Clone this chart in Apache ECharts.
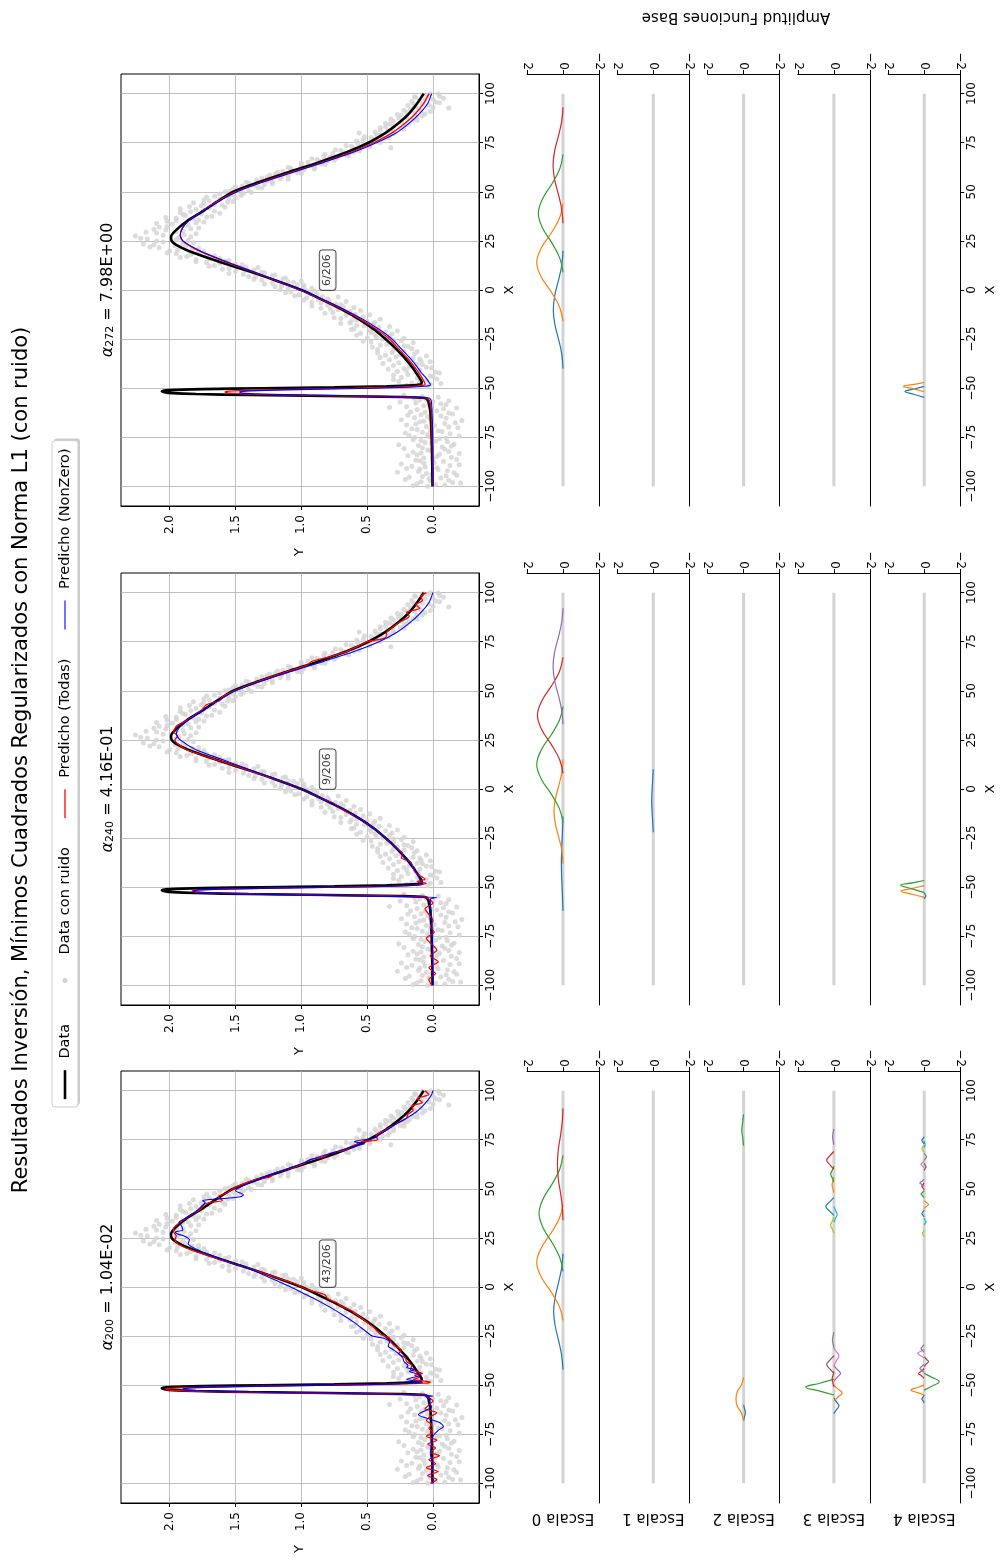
<!DOCTYPE html>
<html>
<head>
<meta charset="utf-8">
<script src="https://cdn.jsdelivr.net/npm/echarts@6/dist/echarts.min.js"></script>
<style>
  html, body { margin: 0; padding: 0; background: #ffffff; }
  #chart { width: 1004px; height: 1560px; }
</style>
</head>
<body>
<div id="chart"></div>
<script>
// ---------------------------------------------------------------------------
// Tick values
// ---------------------------------------------------------------------------
const xTicks = [-100, -75, -50, -25, 0, 25, 50, 75, 100];
const yTicks = [0, 0.5, 1, 1.5, 2];
const ampTicks = [-2, 0, 2];

// ---------------------------------------------------------------------------
// Panel labels
// ---------------------------------------------------------------------------
const alphaIndex = ['200', '240', '272'];
const alphaValue = ['1.04E-02', '4.16E-01', '7.98E+00'];
const nonZeroCount = ['43/206', '9/206', '6/206'];
const scaleNames = ['Escala 0', 'Escala 1', 'Escala 2', 'Escala 3', 'Escala 4'];
const legendNames = ['Data', 'Data con ruido', 'Predicho (Todas)', 'Predicho (NonZero)'];

// ---------------------------------------------------------------------------
// Data: pairs are [X, Y]
// ---------------------------------------------------------------------------
const dataCurve = [
  [-100, 0.003], [-90, 0.005], [-80, 0.008], [-70, 0.013], [-62, 0.02], [-58, 0.03], [-56, 0.04],
  [-55, 0.06], [-54.5, 0.25], [-54, 0.8], [-53.5, 1.4], [-53, 1.8], [-52.5, 1.98], [-52, 2.04],
  [-51.5, 2.06], [-51, 2.0], [-50.5, 1.75], [-50, 1.3], [-49.5, 0.75], [-49, 0.35], [-48.5, 0.15],
  [-48, 0.09], [-47, 0.085], [-45, 0.1], [-42, 0.13], [-40, 0.15], [-35, 0.21], [-30, 0.28],
  [-25, 0.36], [-20, 0.45], [-15, 0.56], [-10, 0.69], [-5, 0.84], [0, 1.0], [5, 1.2], [10, 1.42],
  [15, 1.65], [20, 1.86], [23, 1.95], [25, 1.985], [27, 1.99], [30, 1.96], [35, 1.87], [40, 1.75],
  [45, 1.64], [50, 1.52], [55, 1.32], [60, 1.1], [65, 0.87], [70, 0.66], [75, 0.49], [80, 0.36],
  [85, 0.26], [90, 0.18], [95, 0.12], [100, 0.07]
];

const noisyData = [
  [-100, 0.04], [-99.3, -0.09], [-98.7, 0.12], [-98, -0.15], [-97.2, 0.02], [-96.5, 0.21], [-95.8, -0.06],
  [-95, 0.08], [-94.3, -0.18], [-93.5, 0.05], [-92.8, 0.27], [-92, -0.11], [-91.2, 0.1], [-90.5, -0.03],
  [-89.7, 0.16], [-89, -0.2], [-88.2, 0.07], [-87.4, -0.08], [-86.7, 0.13], [-86, 0.0], [-85.2, -0.14],
  [-84.4, 0.19], [-83.7, -0.05], [-83, 0.09], [-82.2, -0.12], [-81.5, 0.04], [-80.7, 0.22], [-80, -0.07],
  [-79.2, 0.11], [-78.5, -0.16], [-77.7, 0.06], [-77, -0.02], [-76.2, 0.15], [-75.5, -0.1], [-74.7, 0.03],
  [-74, 0.18], [-73.2, -0.13], [-72.5, 0.08], [-71.7, -0.04], [-71, 0.12], [-70.2, -0.19], [-69.5, 0.05],
  [-68.7, 0.2], [-68, -0.09], [-67.2, 0.1], [-66.5, -0.22], [-65.7, 0.02], [-65, 0.14], [-64.2, -0.06],
  [-63.5, 0.09], [-62.7, -0.12], [-62, 0.17], [-61.2, 0.01], [-60.5, -0.08], [-59.8, 0.33], [-59, 0.07],
  [-58.3, -0.1], [-57.5, 0.13], [-56.8, 0.0], [-56, 0.1], [-55.2, 0.14], [-54.6, -0.04],
  [-48.5, 0.2], [-48, 0.02], [-47.3, 0.16], [-46.6, 0.26], [-46, 0.05], [-45.3, -0.03],
  [-44.5, 0.24], [-43.8, 0.02], [-43, 0.19], [-42.3, -0.05], [-41.5, 0.27], [-40.8, 0.1], [-40, 0.22],
  [-39.3, 0.05], [-38.5, 0.3], [-37.8, 0.12], [-37, 0.26], [-36.3, 0.09], [-35.5, 0.33], [-34.8, 0.15],
  [-34, 0.28], [-33.2, 0.36], [-32.5, 0.14], [-31.8, 0.31], [-31, 0.22], [-30.3, 0.42], [-29.5, 0.27],
  [-28.8, 0.19], [-28, 0.4], [-27.3, 0.3], [-26.5, 0.47], [-25.8, 0.24], [-25, 0.38], [-24.3, 0.5],
  [-23.5, 0.33], [-22.8, 0.44], [-22, 0.55], [-21.3, 0.36], [-20.5, 0.48], [-19.8, 0.6], [-19, 0.41],
  [-18.3, 0.52], [-17.5, 0.45], [-16.8, 0.63], [-16, 0.5], [-15.3, 0.58], [-14.5, 0.7], [-13.8, 0.53],
  [-13, 0.66], [-12.3, 0.59], [-11.5, 0.76], [-10.8, 0.63], [-10, 0.72], [-9.3, 0.85], [-8.5, 0.68],
  [-7.8, 0.8], [-7, 0.74], [-6.3, 0.92], [-5.5, 0.79], [-4.8, 0.87], [-4, 0.96], [-3.3, 0.84],
  [-2.5, 1.02], [-1.8, 0.93], [-1, 1.08], [-0.3, 0.96],
  [0.5, 1.1], [1.2, 0.98], [2, 1.15], [2.7, 1.03], [3.5, 1.22], [4.2, 1.1], [5, 1.3], [5.7, 1.14],
  [6.5, 1.35], [7.2, 1.22], [8, 1.44], [8.7, 1.28], [9.5, 1.5], [10.2, 1.36], [11, 1.55], [11.7, 1.42],
  [12.5, 1.66], [13.2, 1.5], [14, 1.72], [14.7, 1.58], [15.5, 1.8], [16.2, 1.62], [17, 1.87], [17.7, 1.72],
  [18.5, 1.95], [19.2, 1.78], [20, 2.0], [20.7, 1.83], [21.5, 2.08], [22.2, 1.88], [23, 2.12], [23.7, 1.9],
  [24.5, 2.05], [25.2, 1.86], [26, 2.17], [26.7, 1.93], [27.5, 2.26], [28.2, 1.89], [29, 2.1], [29.7, 1.95],
  [30.5, 2.03], [31.2, 1.84], [32, 2.08], [32.7, 1.9], [33.5, 1.98], [34.2, 1.8], [35, 2.02], [35.7, 1.78],
  [36.5, 1.95], [37.2, 1.72], [38, 1.88], [38.7, 1.76], [39.5, 1.92], [40.2, 1.66], [41, 1.8], [41.7, 1.7],
  [42.5, 1.85], [43.2, 1.6], [44, 1.74], [44.7, 1.56], [45.5, 1.7], [46.2, 1.62], [47, 1.5], [47.7, 1.66],
  [48.5, 1.52], [49.2, 1.44], [50, 1.58], [50.7, 1.4], [51.5, 1.52], [52.2, 1.33], [53, 1.45], [53.7, 1.28],
  [54.5, 1.4], [55.2, 1.22], [56, 1.34], [56.7, 1.16], [57.5, 1.26], [58.2, 1.1], [59, 1.2], [59.7, 1.03],
  [60.5, 1.14], [61.2, 0.98], [62, 1.08], [62.7, 0.9], [63.5, 1.0], [64.2, 0.85], [65, 0.95], [65.7, 0.8],
  [66.5, 0.88], [67.2, 0.73], [68, 0.83], [68.7, 0.66], [69.5, 0.76], [70.2, 0.6], [71, 0.7], [71.7, 0.56],
  [72.5, 0.32], [73.2, 0.62], [74, 0.48], [74.7, 0.57], [75.5, 0.42], [76.2, 0.53], [77, 0.38], [77.7, 0.47],
  [78.5, 0.33], [79.2, 0.43], [80, 0.56], [80.8, 0.3], [81.5, 0.4], [82.2, 0.25], [83, 0.36], [83.7, 0.22],
  [84.5, 0.33], [85.2, 0.18], [86, 0.3], [86.7, 0.15], [87.5, 0.26], [88.2, 0.12], [89, 0.24], [89.7, 0.06],
  [90.5, 0.2], [91.2, 0.09], [92, 0.17], [92.7, -0.12], [93.5, 0.14], [94.2, 0.03], [95, 0.15], [95.7, -0.02],
  [96.5, 0.1], [97.2, 0.0], [98, 0.13], [98.7, -0.05], [99.4, 0.08], [100, 0.02],
  // second pass of samples
  [-99.6, 0.15], [-99, -0.02], [-98.3, -0.21], [-97.6, 0.09], [-96.9, -0.12], [-96.1, 0.03], [-95.4, 0.18],
  [-94.6, -0.1], [-93.9, 0.01], [-93.1, -0.16], [-92.4, 0.11], [-91.6, -0.04], [-90.9, 0.2], [-90.1, 0.06],
  [-89.4, -0.13], [-88.6, 0.24], [-87.8, -0.01], [-87, 0.1], [-86.3, -0.18], [-85.6, 0.07], [-84.8, -0.03],
  [-84, 0.12], [-83.3, -0.2], [-82.6, 0.15], [-81.8, 0.02], [-81.1, -0.09], [-80.3, 0.08], [-79.6, -0.14],
  [-78.8, 0.26], [-78.1, 0.01], [-77.3, -0.11], [-76.6, 0.09], [-75.8, -0.05], [-75.1, 0.14], [-74.3, -0.2],
  [-73.6, 0.04], [-72.8, 0.21], [-72.1, -0.07], [-71.3, 0.02], [-70.6, 0.16], [-69.8, -0.12], [-69.1, -0.01],
  [-68.3, 0.13], [-67.6, -0.17], [-66.8, 0.07], [-66.1, 0.24], [-65.3, -0.1], [-64.6, 0.04], [-63.8, 0.19],
  [-63.1, -0.15], [-62.3, 0.06], [-61.6, -0.03], [-60.8, 0.12], [-60.1, -0.18], [-59.4, 0.2], [-58.6, 0.03],
  [-57.9, -0.06], [-57.1, 0.25], [-56.4, -0.12], [-55.6, 0.05],
  [-54.2, 0.08], [-53.6, 0.22], [-49.2, 0.04], [-47.6, -0.06], [-46.9, 0.1], [-45.6, 0.3], [-45, 0.12],
  [-44.1, 0.0], [-43.4, 0.3], [-42.7, 0.11], [-41.9, -0.02], [-41.1, 0.2], [-40.4, 0.34], [-39.6, 0.01],
  [-38.9, 0.18], [-38.1, 0.08], [-37.4, 0.38], [-36.6, 0.02], [-35.9, 0.2], [-35.1, 0.1], [-34.4, 0.4],
  [-33.6, 0.05], [-32.9, 0.25], [-32.1, 0.42], [-31.4, 0.12], [-30.6, 0.3], [-29.9, 0.16], [-29.1, 0.46],
  [-28.4, 0.22], [-27.6, 0.35], [-26.9, 0.15], [-26.1, 0.53], [-25.4, 0.3], [-24.6, 0.22], [-23.9, 0.43],
  [-23.1, 0.58], [-22.4, 0.31], [-21.6, 0.47], [-20.9, 0.27], [-20.1, 0.62], [-19.4, 0.46], [-18.6, 0.33],
  [-17.9, 0.58], [-17.1, 0.7], [-16.4, 0.44], [-15.6, 0.62], [-14.9, 0.4], [-14.1, 0.75], [-13.4, 0.6],
  [-12.6, 0.48], [-11.9, 0.82], [-11.1, 0.66], [-10.4, 0.55], [-9.6, 0.78], [-8.9, 0.6], [-8.1, 0.92],
  [-7.4, 0.7], [-6.6, 0.85], [-5.9, 0.66], [-5.1, 0.98], [-4.4, 0.8], [-3.6, 0.72], [-2.9, 1.05],
  [-2.1, 0.88], [-1.4, 1.12], [-0.6, 0.9],
  [0.2, 1.16], [0.9, 0.92], [1.6, 1.2], [2.4, 0.98], [3.1, 1.28], [3.9, 1.06], [4.6, 1.0], [5.4, 1.36],
  [6.1, 1.12], [6.9, 1.4], [7.6, 1.2], [8.4, 1.55], [9.1, 1.3], [9.9, 1.42], [10.6, 1.6], [11.4, 1.33],
  [12.1, 1.7], [12.9, 1.45], [13.6, 1.62], [14.4, 1.8], [15.1, 1.55], [15.9, 1.7], [16.6, 1.92], [17.4, 1.66],
  [18.1, 1.84], [18.9, 2.02], [19.6, 1.74], [20.4, 1.94], [21.1, 1.78], [21.9, 2.15], [22.6, 1.96], [23.4, 2.2],
  [24.1, 1.82], [24.9, 2.1], [25.6, 1.95], [26.4, 2.22], [27.1, 1.84],
  [27.9, 2.05], [28.6, 1.8], [29.4, 2.18], [30.1, 1.9], [30.9, 2.12], [31.6, 1.78], [32.4, 2.02], [33.1, 1.86],
  [33.9, 2.1], [34.6, 1.74], [35.4, 1.95], [36.1, 1.82], [36.9, 2.03], [37.6, 1.68], [38.4, 1.9], [39.1, 1.62],
  [39.9, 1.84], [40.6, 1.74], [41.4, 1.92], [42.1, 1.58], [42.9, 1.76], [43.6, 1.66], [44.4, 1.82], [45.1, 1.52],
  [45.9, 1.74], [46.6, 1.55], [47.4, 1.72], [48.1, 1.46], [48.9, 1.62], [49.6, 1.38], [50.4, 1.55], [51.1, 1.46],
  [51.9, 1.3], [52.6, 1.5], [53.4, 1.36], [54.1, 1.22], [54.9, 1.42], [55.6, 1.26], [56.4, 1.1], [57.1, 1.3],
  [57.9, 1.15], [58.6, 1.24], [59.4, 1.0], [60.1, 1.18], [60.9, 1.02], [61.6, 0.9], [62.4, 1.1], [63.1, 0.92],
  [63.9, 0.82], [64.6, 1.0], [65.4, 0.86], [66.1, 0.75], [66.9, 0.92], [67.6, 0.78], [68.4, 0.64], [69.1, 0.82],
  [69.9, 0.68], [70.6, 0.56], [71.4, 0.74], [72.1, 0.6], [72.9, 0.48], [73.6, 0.66], [74.4, 0.52], [75.1, 0.4],
  [75.9, 0.58], [76.6, 0.44], [77.4, 0.34], [78.1, 0.52], [78.9, 0.4], [79.6, 0.3], [80.4, 0.44], [81.1, 0.34],
  [81.9, 0.22], [82.6, 0.4], [83.4, 0.3], [84.1, 0.2], [84.9, 0.36], [85.6, 0.24], [86.4, 0.12], [87.1, 0.32],
  [87.9, 0.2], [88.6, 0.08], [89.4, 0.27], [90.1, 0.14], [90.9, 0.02], [91.6, 0.22], [92.4, 0.11], [93.1, 0.0],
  [93.9, 0.19], [94.6, 0.08], [95.4, -0.05], [96.1, 0.16], [96.9, 0.06], [97.6, -0.08], [98.4, 0.14],
  [99.1, 0.04], [99.8, -0.04]
];

// Predicted curves, alpha_200
const predTodas200 = [
  [-100, 0.02], [-98, -0.03], [-96, 0.04], [-94, -0.04], [-92, 0.05], [-90, -0.02], [-88, 0.03], [-86, -0.05],
  [-84, 0.02], [-82, -0.02], [-80, 0.04], [-78, -0.03], [-76, 0.05], [-74, 0.0], [-72, 0.03], [-70, 0.01],
  [-68, 0.05], [-66, 0.02], [-64, -0.03], [-62, 0.06], [-60, 0.03], [-58, 0.0], [-56, 0.04], [-55, 0.06],
  [-54.5, 0.35], [-54, 0.9], [-53.5, 1.5], [-53, 1.85], [-52.5, 2.0], [-52, 2.03], [-51.5, 1.98], [-51, 1.75],
  [-50.5, 1.3], [-50, 0.75], [-49.5, 0.3], [-49, 0.06], [-48.5, 0.02], [-48, 0.05], [-47, 0.15], [-46, 0.1],
  [-45, 0.14], [-44, 0.08], [-43, 0.13], [-42, 0.17], [-40, 0.16], [-38, 0.2], [-36, 0.21], [-34, 0.26],
  [-32, 0.24], [-30, 0.29], [-28, 0.32], [-26, 0.33], [-24, 0.4], [-22, 0.43], [-20, 0.46], [-17, 0.52],
  [-15, 0.56], [-12, 0.62], [-10, 0.69], [-8, 0.73], [-6, 0.8], [-4, 0.82], [-2, 0.92], [0, 1.0], [2, 1.06],
  [5, 1.2], [10, 1.42], [15, 1.66], [18, 1.8], [20, 1.88], [22, 1.94], [24, 1.96], [26, 1.95], [28, 1.97],
  [30, 1.97], [32, 1.94], [34, 1.9], [37, 1.83], [40, 1.76], [42, 1.74], [43, 1.7], [44, 1.6], [46, 1.63],
  [48, 1.56], [50, 1.52], [53, 1.42], [55, 1.33], [56, 1.24], [58, 1.2], [60, 1.1], [63, 0.98], [65, 0.93],
  [66, 0.84], [68, 0.78], [70, 0.66], [73, 0.57], [74, 0.54], [75, 0.42], [77, 0.43], [80, 0.36], [83, 0.28],
  [86, 0.2], [88, 0.19], [90, 0.15], [92, 0.16], [94, 0.08], [96, 0.12], [98, 0.03], [100, 0.06]
];
const predNonZero200 = [
  [-100, 0.0], [-95, 0.01], [-90, 0.0], [-85, 0.02], [-80, 0.01], [-76, 0.0], [-73, -0.04], [-71, -0.08],
  [-69, -0.05], [-67, 0.04], [-65, 0.11], [-63, 0.06], [-61, 0.01], [-59, 0.03], [-57, 0.02], [-56, 0.05],
  [-55.5, 0.0], [-55, 0.1], [-54.5, 0.4], [-54, 0.9], [-53.5, 1.4], [-53, 1.72], [-52.5, 1.86], [-52, 1.9],
  [-51.5, 1.86], [-51, 1.66], [-50.5, 1.25], [-50, 0.75], [-49.5, 0.35], [-49, 0.14], [-48.5, 0.08],
  [-48, 0.12], [-47, 0.2], [-46, 0.15], [-45, 0.09], [-44, 0.13], [-43, 0.18], [-42, 0.14], [-41, 0.2],
  [-40, 0.19], [-38, 0.22], [-36, 0.23], [-34, 0.26], [-32, 0.3], [-30, 0.34], [-28, 0.33], [-26, 0.38],
  [-25, 0.46], [-22, 0.52], [-18, 0.6], [-14, 0.69], [-10, 0.79], [-6, 0.9], [-3, 0.99], [0, 1.08],
  [3, 1.18], [6, 1.28], [10, 1.42], [14, 1.6], [17, 1.72], [20, 1.82], [22, 1.86], [24, 1.85], [26, 1.89],
  [27, 1.94], [28, 1.96], [29, 1.9], [31, 1.91], [33, 1.93], [35, 1.88], [38, 1.81], [41, 1.76], [43, 1.73],
  [44, 1.75], [45, 1.6], [46, 1.46], [47, 1.44], [49, 1.5], [52, 1.43], [55, 1.32], [58, 1.2], [60, 1.11],
  [63, 0.99], [65, 0.92], [68, 0.78], [70, 0.68], [72, 0.58], [73, 0.52], [74, 0.6], [76, 0.44], [78, 0.4],
  [80, 0.35], [83, 0.28], [86, 0.2], [89, 0.13], [92, 0.08], [95, 0.04], [98, 0.01], [100, 0.0]
];

// Predicted curves, alpha_240
const predTodas240 = [
  [-100, 0.01], [-97, 0.03], [-94, -0.02], [-91, 0.03], [-88, -0.04], [-85, 0.02], [-82, -0.03], [-79, 0.01],
  [-76, 0.05], [-73, -0.01], [-70, 0.02], [-67, 0.0], [-64, 0.03], [-61, 0.06], [-58, 0.0], [-56, 0.03],
  [-55, 0.06], [-54.5, 0.3], [-54, 0.8], [-53.5, 1.3], [-53, 1.65], [-52.5, 1.8], [-52, 1.83], [-51.5, 1.8],
  [-51, 1.6], [-50.5, 1.2], [-50, 0.7], [-49.5, 0.3], [-49, 0.12], [-48, 0.05], [-47, 0.12], [-46, 0.06],
  [-44, 0.1], [-42, 0.14], [-40, 0.15], [-37, 0.17], [-35, 0.24], [-33, 0.23], [-30, 0.28], [-25, 0.36],
  [-20, 0.45], [-15, 0.56], [-10, 0.7], [-7, 0.76], [-5, 0.84], [0, 1.0], [5, 1.2], [10, 1.42], [15, 1.65],
  [20, 1.87], [23, 1.94], [25, 1.96], [27, 1.94], [29, 1.97], [32, 1.95], [35, 1.87], [40, 1.76], [43, 1.72],
  [45, 1.62], [47, 1.6], [50, 1.51], [55, 1.32], [60, 1.1], [63, 0.96], [65, 0.92], [67, 0.8], [70, 0.66],
  [73, 0.56], [75, 0.5], [77, 0.36], [80, 0.35], [85, 0.25], [88, 0.18], [90, 0.2], [92, 0.1], [94, 0.13],
  [96, 0.08], [98, 0.09], [100, 0.05]
];
const predNonZero240 = [
  [-100, 0.0], [-80, 0.005], [-65, 0.01], [-58, 0.02], [-56, 0.02], [-55.3, -0.03], [-54.8, 0.2], [-54.3, 0.7],
  [-53.8, 1.2], [-53.2, 1.6], [-52.5, 1.78], [-52, 1.82], [-51.5, 1.8], [-51, 1.6], [-50.5, 1.2], [-50, 0.7],
  [-49.5, 0.3], [-49, 0.12], [-48.5, 0.08], [-48, 0.08], [-46, 0.1], [-43, 0.12], [-40, 0.15], [-35, 0.21],
  [-30, 0.28], [-25, 0.36], [-20, 0.45], [-15, 0.56], [-10, 0.69], [-5, 0.84], [0, 1.0], [5, 1.19], [10, 1.4],
  [15, 1.6], [20, 1.8], [25, 1.92], [28, 1.95], [31, 1.93], [35, 1.86], [40, 1.75], [45, 1.63], [50, 1.5],
  [55, 1.3], [60, 1.07], [65, 0.83], [70, 0.6], [75, 0.41], [80, 0.27], [85, 0.17], [90, 0.09], [95, 0.03],
  [100, 0.0]
];

// Predicted curves, alpha_272
const predTodas272 = [
  [-100, 0.0], [-80, 0.005], [-65, 0.01], [-58, 0.02], [-56, 0.03], [-55, 0.05], [-54.5, 0.2], [-54, 0.6],
  [-53.5, 1.05], [-53, 1.4], [-52.5, 1.55], [-52, 1.58], [-51.5, 1.55], [-51, 1.35], [-50.5, 1.0], [-50, 0.6],
  [-49.5, 0.3], [-49, 0.13], [-48.5, 0.07], [-48, 0.06], [-47, 0.065], [-45, 0.08], [-42, 0.11], [-40, 0.13],
  [-35, 0.19], [-30, 0.26], [-25, 0.33], [-20, 0.43], [-15, 0.55], [-10, 0.68], [-5, 0.84], [0, 1.01],
  [5, 1.2], [10, 1.4], [15, 1.6], [20, 1.78], [25, 1.9], [28, 1.92], [32, 1.9], [35, 1.86], [40, 1.76],
  [45, 1.64], [50, 1.5], [55, 1.3], [60, 1.07], [65, 0.84], [70, 0.63], [75, 0.45], [80, 0.31], [85, 0.21],
  [90, 0.13], [95, 0.07], [100, 0.03]
];
const predNonZero272 = [
  [-100, 0.0], [-80, 0.0], [-65, 0.005], [-58, 0.01], [-56, 0.015], [-55, 0.03], [-54.5, 0.15], [-54, 0.5],
  [-53.5, 0.95], [-53, 1.3], [-52.5, 1.45], [-52, 1.47], [-51.5, 1.42], [-51, 1.2], [-50.5, 0.85], [-50, 0.45],
  [-49.5, 0.18], [-49, 0.06], [-48.5, 0.02], [-48, 0.02], [-47, 0.03], [-45, 0.05], [-42, 0.09], [-40, 0.11],
  [-35, 0.17], [-30, 0.24], [-25, 0.31], [-20, 0.41], [-15, 0.53], [-10, 0.67], [-5, 0.83], [0, 1.0],
  [5, 1.19], [10, 1.39], [15, 1.59], [20, 1.77], [25, 1.9], [28, 1.92], [32, 1.9], [35, 1.86], [40, 1.76],
  [45, 1.63], [50, 1.49], [55, 1.29], [60, 1.06], [65, 0.83], [70, 0.61], [75, 0.43], [80, 0.28], [85, 0.18],
  [90, 0.1], [95, 0.04], [100, 0.01]
];

// Amplitude of each active basis function, pairs are [X, amplitude]
const zeroLine = [[-100, 0], [100, 0]];

const basis200_e0 = [
  [[-42, 0], [-35, 0.07], [-27.5, 0.24], [-20, 0.43], [-12.5, 0.52], [-5, 0.43], [2.5, 0.24], [10, 0.07], [17, 0]],
  [[-17, 0], [-10, 0.2], [-2.5, 0.66], [5, 1.2], [12.5, 1.46], [20, 1.2], [27.5, 0.66], [35, 0.2], [42, 0]],
  [[8, 0], [15, 0.18], [22.5, 0.6], [30, 1.1], [37.5, 1.33], [45, 1.1], [52.5, 0.6], [60, 0.18], [67, 0]],
  [[34, 0], [41, 0.04], [48, 0.14], [55, 0.26], [62.5, 0.31], [70, 0.26], [77, 0.14], [84, 0.04], [91, 0]]
];
const basis200_e1 = [];
const basis200_e2 = [
  [[-68, 0], [-66, -0.05], [-64, -0.1], [-62, -0.05], [-60, 0]],
  [[-68, 0], [-64, 0.13], [-60.5, 0.36], [-57, 0.42], [-53.5, 0.36], [-50, 0.13], [-46, 0]],
  [[72, 0], [76, 0.05], [80, 0.1], [84, 0.05], [88, 0]]
];
const basis200_e3 = [
  [[-64.5, 0], [-62.5, -0.14], [-60.5, -0.28], [-58.5, -0.14], [-56.5, 0]],
  [[-58, 0], [-56, -0.23], [-54, -0.46], [-52, -0.23], [-50, 0]],
  [[-55, 0], [-53, 0.78], [-51, 1.57], [-49, 0.78], [-47, 0]],
  [[-51, 0], [-49, 0.05], [-47, 0.1], [-45, 0.05], [-43, 0]],
  [[-48, 0], [-46, -0.18], [-44, -0.37], [-42, -0.18], [-40, 0]],
  [[-44, 0], [-42, 0.2], [-39.5, 0.4], [-37, 0.2], [-35, 0]],
  [[-40, 0], [-37.5, -0.14], [-35, -0.28], [-33, -0.14], [-31, 0]],
  [[-31, 0], [-29, 0.04], [-27, 0.08], [-25, 0.04], [-23, 0]],
  [[27.5, 0], [29.5, 0.09], [31.5, 0.18], [33.5, 0.09], [35.5, 0]],
  [[33, 0], [35, -0.09], [37, -0.18], [39, -0.09], [41, 0]],
  [[36.5, 0], [38.5, 0.22], [41, 0.45], [43.5, 0.22], [45.5, 0]],
  [[48, 0], [50, 0.05], [52, 0.1], [54, 0.05], [56, 0]],
  [[53.5, 0], [55.5, 0.09], [57.5, 0.18], [59.5, 0.09], [61.5, 0]],
  [[60, 0], [62, 0.2], [64.5, 0.4], [67, 0.2], [69, 0]],
  [[72.5, 0], [74.5, 0.04], [76.5, 0.07], [78.5, 0.04], [80.5, 0]]
];
const basis200_e4 = [
  [[-59, 0], [-58, 0.06], [-57, 0.13], [-56, 0.06], [-55, 0]],
  [[-55, 0], [-53.8, 0.37], [-52.5, 0.74], [-51.2, 0.37], [-50, 0]],
  [[-52.5, 0], [-50.5, -0.42], [-48.2, -0.83], [-46, -0.42], [-44, 0]],
  [[-46.5, 0], [-45.2, 0.15], [-44, 0.31], [-42.8, 0.15], [-41.5, 0]],
  [[-43.5, 0], [-42.5, 0.12], [-41.4, 0.24], [-40.3, 0.12], [-39.3, 0]],
  [[-40.5, 0], [-39.2, -0.12], [-38, -0.24], [-36.8, -0.12], [-35.5, 0]],
  [[-36, 0], [-35, 0.18], [-33.8, 0.37], [-32.7, 0.18], [-31.7, 0]],
  [[-33.3, 0], [-32.3, 0.09], [-31.3, 0.18], [-30.3, 0.09], [-29.3, 0]],
  [[25.5, 0], [26.4, 0.05], [27.2, 0.1], [28, 0.05], [29, 0]],
  [[31.5, 0], [32.4, -0.05], [33.2, -0.1], [34, -0.05], [35, 0]],
  [[35.7, 0], [36.6, 0.07], [37.4, 0.13], [38.2, 0.07], [39.1, 0]],
  [[40, 0], [41, -0.12], [42, -0.24], [43, -0.12], [44, 0]],
  [[45.5, 0], [46.4, 0.09], [47.3, 0.17], [48.2, 0.09], [49.1, 0]],
  [[49.5, 0], [50.4, 0.07], [51.3, 0.13], [52.1, 0.07], [53, 0]],
  [[51.3, 0], [52.1, 0.12], [53, 0.24], [53.9, 0.12], [54.7, 0]],
  [[59.4, 0], [60.3, -0.05], [61.2, -0.1], [62.1, -0.05], [63, 0]],
  [[60.7, 0], [61.6, 0.09], [62.5, 0.18], [63.4, 0.09], [64.3, 0]],
  [[64.5, 0], [65.4, -0.07], [66.3, -0.13], [67.2, -0.07], [68.1, 0]],
  [[68.7, 0], [69.6, 0.07], [70.5, 0.13], [71.4, 0.07], [72.3, 0]],
  [[71, 0], [71.8, -0.03], [72.6, -0.06], [73.4, -0.03], [74.2, 0]],
  [[72.9, 0], [73.8, 0.07], [74.7, 0.13], [75.6, 0.07], [76.5, 0]]
];

const basis240_e0 = [
  [[-62, 0], [-54, 0.03], [-46, 0.07], [-38, 0.09], [-30, 0.07], [-22, 0.03], [-14, 0]],
  [[-38, 0], [-31, 0.07], [-24.5, 0.24], [-18, 0.42], [-11.5, 0.5], [-5, 0.42], [1.5, 0.24], [8, 0.07], [15, 0]],
  [[-17, 0], [-10, 0.2], [-2.5, 0.66], [5, 1.2], [12.5, 1.46], [20, 1.2], [27.5, 0.66], [35, 0.2], [42, 0]],
  [[8, 0], [15, 0.19], [22.5, 0.64], [30, 1.17], [37.5, 1.42], [45, 1.17], [52.5, 0.64], [60, 0.19], [67, 0]],
  [[33, 0], [40, 0.07], [47.5, 0.25], [55, 0.46], [62.5, 0.55], [70, 0.46], [77.5, 0.25], [85, 0.07], [92, 0]]
];
const basis240_e1 = [
  [[-22, 0], [-14, 0.05], [-6, 0.09], [2, 0.05], [10, 0]]
];
const basis240_e2 = [];
const basis240_e3 = [];
const basis240_e4 = [
  [[-56, 0], [-55.2, -0.05], [-54.4, -0.1], [-53.6, -0.05], [-52.8, 0]],
  [[-55.2, 0], [-53.6, 0.65], [-52, 1.3], [-50.6, 0.65], [-49.2, 0]],
  [[-52.8, 0], [-50.9, 0.65], [-49, 1.31], [-47.8, 0.65], [-46.6, 0]]
];

const basis272_e0 = [
  [[-40, 0], [-32.5, 0.07], [-25, 0.25], [-17.5, 0.45], [-10, 0.54], [-2.5, 0.45], [5, 0.25], [12.5, 0.07], [20, 0]],
  [[-16, 0], [-8.5, 0.2], [-1, 0.65], [6.5, 1.2], [14, 1.46], [21.5, 1.2], [29, 0.65], [36.5, 0.2], [44, 0]],
  [[9, 0], [16.5, 0.19], [24, 0.62], [31.5, 1.13], [39, 1.37], [46.5, 1.13], [54, 0.62], [61.5, 0.19], [69, 0]],
  [[34, 0], [41, 0.07], [48.5, 0.25], [56, 0.46], [63.5, 0.55], [71, 0.46], [78.5, 0.25], [86, 0.07], [93, 0]]
];
const basis272_e1 = [];
const basis272_e2 = [];
const basis272_e3 = [];
const basis272_e4 = [
  [[-54.7, 0], [-53.2, 0.55], [-51.7, 1.07], [-50.4, 0.55], [-49.1, 0]],
  [[-51.8, 0], [-50.4, 0.58], [-49.1, 1.15], [-48.1, 0.58], [-47.1, 0]]
];

// ---------------------------------------------------------------------------
// Styling and layout (page is portrait: X runs upward, Y runs leftward)
// ---------------------------------------------------------------------------
const FONT = 'DejaVu Sans';
const TAB10 = ['#1f77b4', '#ff7f0e', '#2ca02c', '#d62728', '#9467bd',
               '#8c564b', '#e377c2', '#7f7f7f', '#bcbd22', '#17becf'];
const TICK_FS = 12;
const LABEL_FS = 13;
const colTop = [1071, 573, 74];
const PLOT_H = 432;
const MAIN_LEFT = 121, MAIN_W = 358;
const SMALL_LEFT0 = 527, SMALL_STEP = 90.3, SMALL_W = 72;

const panels = [
  { red: predTodas200, blue: predNonZero200, basis: [basis200_e0, basis200_e1, basis200_e2, basis200_e3, basis200_e4] },
  { red: predTodas240, blue: predNonZero240, basis: [basis240_e0, basis240_e1, basis240_e2, basis240_e3, basis240_e4] },
  { red: predTodas272, blue: predNonZero272, basis: [basis272_e0, basis272_e1, basis272_e2, basis272_e3, basis272_e4] }
];

const toXY = pts => pts.map(p => [p[1], p[0]]);
const fmtMinus = v => String(v).replace('-', '\u2212');
const textBase = { color: '#000', fontFamily: FONT };

const grids = [], xAxes = [], yAxes = [], series = [], graphics = [];

panels.forEach((p, c) => {
  const T = colTop[c];

  // ---- main panel -------------------------------------------------------
  const gi = grids.length;
  grids.push({ left: MAIN_LEFT, top: T, width: MAIN_W, height: PLOT_H, show: true,
               borderColor: '#000', borderWidth: 1, backgroundColor: 'transparent' });
  xAxes.push({
    gridIndex: gi, type: 'value', inverse: true, min: -0.35, max: 2.37, position: 'bottom',
    axisLine: { show: true, onZero: false, lineStyle: { color: '#000', width: 1 } },
    axisTick: { show: true, length: 4, customValues: yTicks, lineStyle: { color: '#000' } },
    axisLabel: Object.assign({ show: true, customValues: yTicks, rotate: 90, margin: 9, fontSize: TICK_FS,
                 formatter: v => v.toFixed(1) }, textBase),
    splitLine: { show: true, lineStyle: { color: '#b0b0b0', width: 0.8 } },
    name: 'Y', nameLocation: 'middle', nameGap: 42, nameRotate: 90,
    nameTextStyle: Object.assign({ fontSize: LABEL_FS }, textBase)
  });
  yAxes.push({
    gridIndex: gi, type: 'value', min: -110, max: 110, position: 'right',
    axisLine: { show: true, onZero: false, lineStyle: { color: '#000', width: 1 } },
    axisTick: { show: true, length: 4, customValues: xTicks, lineStyle: { color: '#000' } },
    axisLabel: Object.assign({ show: true, customValues: xTicks, rotate: 90, margin: 6, fontSize: TICK_FS,
                 formatter: fmtMinus }, textBase),
    splitLine: { show: true, lineStyle: { color: '#b0b0b0', width: 0.8 } },
    name: 'X', nameLocation: 'middle', nameGap: 24, nameRotate: 90,
    nameTextStyle: Object.assign({ fontSize: LABEL_FS }, textBase)
  });
  series.push({ type: 'scatter', xAxisIndex: gi, yAxisIndex: gi, data: toXY(noisyData),
                symbolSize: 5, itemStyle: { color: '#d3d3d3' }, silent: true, z: 2 });
  series.push({ type: 'line', xAxisIndex: gi, yAxisIndex: gi, data: toXY(dataCurve), showSymbol: false,
                smooth: 0.25, lineStyle: { color: '#000', width: 2.6 }, silent: true, z: 3 });
  series.push({ type: 'line', xAxisIndex: gi, yAxisIndex: gi, data: toXY(p.red), showSymbol: false,
                smooth: 0.25, lineStyle: { color: '#ff0000', width: 1.3 }, silent: true, z: 4 });
  series.push({ type: 'line', xAxisIndex: gi, yAxisIndex: gi, data: toXY(p.blue), showSymbol: false,
                smooth: 0.25, lineStyle: { color: '#0000ff', width: 1.1 }, silent: true, z: 5 });
  // count of non-zero coefficients, boxed, anchored at X = 0
  series.push({ type: 'scatter', xAxisIndex: gi, yAxisIndex: gi, data: [[0.8, 0]], symbolSize: 0,
                silent: true, z: 10,
                label: { show: true, position: 'inside', formatter: nonZeroCount[c], rotate: 90,
                         align: 'left', verticalAlign: 'middle', fontSize: 11, fontFamily: FONT, color: '#000',
                         backgroundColor: '#fff', borderColor: '#000', borderWidth: 0.8, borderRadius: 3,
                         padding: [3, 4, 2, 4] } });

  // panel title: alpha_i = value
  graphics.push({
    type: 'text', x: 108, y: T + PLOT_H / 2, rotation: Math.PI / 2, silent: true,
    style: {
      text: '{a|\u03b1}{s|' + alphaIndex[c] + '}{n| = ' + alphaValue[c] + '}',
      align: 'center', verticalAlign: 'middle', fill: '#000',
      rich: {
        a: { fontSize: 16, fontFamily: FONT, fontStyle: 'italic', fill: '#000' },
        s: { fontSize: 11, fontFamily: FONT, fill: '#000', verticalAlign: 'bottom' },
        n: { fontSize: 16, fontFamily: FONT, fill: '#000' }
      }
    }
  });

  // ---- basis amplitude panels --------------------------------------------
  p.basis.forEach((curves, k) => {
    const si = grids.length;
    const last = k === p.basis.length - 1;
    grids.push({ left: SMALL_LEFT0 + SMALL_STEP * k, top: T, width: SMALL_W, height: PLOT_H, show: false });
    xAxes.push({
      gridIndex: si, type: 'value', inverse: true, min: -2, max: 2, position: 'top',
      axisLine: { show: true, onZero: false, lineStyle: { color: '#000', width: 1 } },
      axisTick: { show: true, length: 4, customValues: ampTicks, lineStyle: { color: '#000' } },
      axisLabel: Object.assign({ show: true, customValues: ampTicks, rotate: 90, margin: 4, fontSize: TICK_FS,
                   formatter: fmtMinus }, textBase),
      splitLine: { show: false }
    });
    yAxes.push({
      gridIndex: si, type: 'value', min: -110, max: 110, position: 'right',
      axisLine: { show: true, onZero: false, lineStyle: { color: '#000', width: 1 } },
      axisTick: { show: last, length: 4, customValues: xTicks, lineStyle: { color: '#000' } },
      axisLabel: Object.assign({ show: last, customValues: xTicks, rotate: 90, margin: 6, fontSize: TICK_FS,
                   formatter: fmtMinus }, textBase),
      splitLine: { show: false },
      name: last ? 'X' : '', nameLocation: 'middle', nameGap: 24, nameRotate: 90,
      nameTextStyle: Object.assign({ fontSize: LABEL_FS }, textBase)
    });
    series.push({ type: 'line', xAxisIndex: si, yAxisIndex: si, data: toXY(zeroLine), showSymbol: false,
                  lineStyle: { color: '#d3d3d3', width: 3 }, silent: true, z: 2 });
    curves.forEach((pts, j) => {
      series.push({ type: 'line', xAxisIndex: si, yAxisIndex: si, data: toXY(pts), showSymbol: false,
                    smooth: 0.4, lineStyle: { color: TAB10[j % TAB10.length], width: 1.2 },
                    silent: true, z: 3 });
    });
  });
});

// ---- row labels of the amplitude panels (upside-down) ---------------------
scaleNames.forEach((s, k) => {
  graphics.push({ type: 'text', x: SMALL_LEFT0 + SMALL_STEP * k + SMALL_W / 2, y: 1518, rotation: Math.PI,
                  silent: true,
                  style: { text: s, fontSize: 15, fontFamily: FONT, fill: '#000', align: 'center', verticalAlign: 'middle' } });
});
graphics.push({ type: 'text', x: 736, y: 17, rotation: Math.PI, silent: true,
                style: { text: 'Amplitud Funciones Base', fontSize: 15, fontFamily: FONT, fill: '#000',
                         align: 'center', verticalAlign: 'middle' } });

// ---- figure title ----------------------------------------------------------
graphics.push({ type: 'text', x: 22, y: 760, rotation: Math.PI / 2, silent: true,
                style: { text: 'Resultados Inversi\u00f3n, M\u00ednimos Cuadrados Regularizados con Norma L1 (con ruido)',
                         fontSize: 21, fontFamily: FONT, fill: '#000', align: 'center', verticalAlign: 'middle' } });

// ---- legend (drawn along the page, reading upward) -------------------------
(function buildLegend() {
  const fs = 14.5;
  const ctx = document.createElement('canvas').getContext('2d');
  ctx.font = fs + 'px "' + FONT + '"';
  const pad = 0.4 * fs, hLen = 2 * fs, hPad = 0.8 * fs, colSp = 2 * fs;
  const children = [];
  let x = pad + 2;
  const items = [];
  legendNames.forEach((name, i) => {
    items.push({ x0: x, name: name, i: i });
    x += hLen + hPad + ctx.measureText(name).width + (i < legendNames.length - 1 ? colSp : 0);
  });
  const total = x + pad + 2;
  const half = 13;
  children.push({ type: 'rect', shape: { x: 2, y: -half + 2, width: total, height: 2 * half, r: 3 },
                  style: { fill: '#9a9a9a', opacity: 0.5 } });
  children.push({ type: 'rect', shape: { x: 0, y: -half, width: total, height: 2 * half, r: 3 },
                  style: { fill: '#ffffff', stroke: '#cccccc', lineWidth: 1 } });
  items.forEach(it => {
    if (it.i === 1) {
      children.push({ type: 'circle', shape: { cx: it.x0 + hLen / 2, cy: 0, r: 2.5 }, style: { fill: '#d3d3d3' } });
    } else {
      const col = ['#000000', null, '#ff0000', '#0000ff'][it.i];
      const w = [2.6, 0, 1.3, 1.1][it.i];
      children.push({ type: 'line', shape: { x1: it.x0, y1: 0, x2: it.x0 + hLen, y2: 0 },
                      style: { stroke: col, lineWidth: w } });
    }
    children.push({ type: 'text', x: it.x0 + hLen + hPad, y: 0,
                    style: { text: it.name, fontSize: fs, fontFamily: FONT, fill: '#000',
                             align: 'left', verticalAlign: 'middle' } });
  });
  graphics.push({ type: 'group', x: 65, y: 1107, rotation: Math.PI / 2, silent: true, children: children });
})();

const chart = echarts.init(document.getElementById('chart'), null, { renderer: 'canvas', width: 1004, height: 1560 });
chart.setOption({
  animation: false,
  backgroundColor: '#ffffff',
  grid: grids,
  xAxis: xAxes,
  yAxis: yAxes,
  series: series,
  graphic: graphics
});
</script>
</body>
</html>
